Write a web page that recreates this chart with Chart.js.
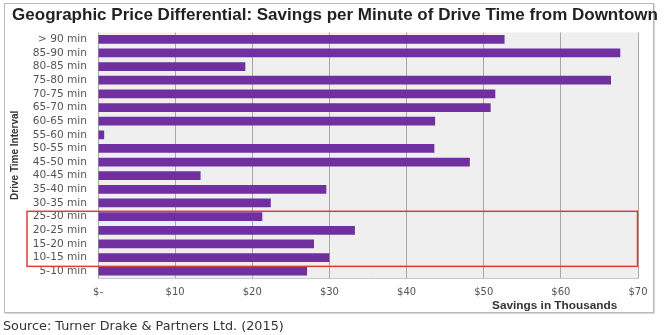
<!DOCTYPE html>
<html>
<head>
<meta charset="utf-8">
<script src="https://cdn.jsdelivr.net/npm/chart.js@4.4.1/dist/chart.umd.min.js"></script>
<style>
  html, body { margin:0; padding:0; background:#fff; }
  #wrap { position:relative; width:668px; height:335px; }
  #frame { position:absolute; left:4px; top:3px; width:648px; height:308px; border:1px solid #b8b8b8; box-shadow:1px 1px 1px #ddd; }
  #c { position:absolute; left:0; top:0; }
  #src { position:absolute; left:3px; top:318px; font:12.8px "DejaVu Sans", Verdana, sans-serif; color:#333; white-space:nowrap; }
</style>
</head>
<body>
<div id="wrap">
  <div id="frame"></div>
  <canvas id="c" width="668" height="335"></canvas>
  <div id="src">Source: Turner Drake &amp; Partners Ltd. (2015)</div>
</div>
<script>
// ---- data ------------------------------------------------------------------
const intervals = ["> 90 min","85-90 min","80-85 min","75-80 min","70-75 min","65-70 min",
  "60-65 min","55-60 min","50-55 min","45-50 min","40-45 min","35-40 min","30-35 min",
  "25-30 min","20-25 min","15-20 min","10-15 min","5-10 min"];
const savings = [52.7, 67.7, 19.1, 66.5, 51.5, 50.9, 43.7, 0.8, 43.6, 48.2, 13.3, 29.6,
  22.4, 21.3, 33.3, 28.0, 30.0, 27.1];
const xTicks = ["$-","$10","$20","$30","$40","$50","$60","$70"];
// intervalos resaltados en rojo
const highlight = ["25-30 min","10-15 min"];

const TITLE = "Geographic Price Differential: Savings per Minute of Drive Time from Downtown";
const PURPLE = "#7030a0";
const FONT = "'Liberation Sans', Arial, sans-serif";
const TICKFONT = "'DejaVu Sans', Verdana, sans-serif";

// fondo gris del area de trazado
const plotBg = {
  id:"plotBg",
  beforeDraw(chart){
    const {ctx, chartArea:a} = chart;
    ctx.save();
    ctx.fillStyle = "#efefef";
    ctx.fillRect(a.left, a.top, a.right - a.left, a.bottom - a.top);
    ctx.restore();
  }
};

// titulo (centrado en la pagina, no en el area util), recuadro rojo y titulo del eje x
const extras = {
  id:"extras",
  afterDraw(chart){
    const {ctx} = chart;
    const x = chart.scales.x, y = chart.scales.y;
    ctx.save();
    ctx.fillStyle = "#222";
    ctx.font = "bold 17px " + FONT;
    ctx.textAlign = "center";
    ctx.textBaseline = "middle";
    ctx.fillText(TITLE, 335, 15);

    const band = y.getPixelForValue(1) - y.getPixelForValue(0);
    const i0 = intervals.indexOf(highlight[0]), i1 = intervals.indexOf(highlight[1]);
    const top = y.getPixelForValue(i0) - band/2 + 1.5;
    const bot = y.getPixelForValue(i1) + band/2 + 2;
    const left = x.left - 71, right = x.getPixelForValue(70) - 0.5;
    ctx.strokeStyle = "#dc3c3c";
    ctx.lineWidth = 1.5;
    ctx.strokeRect(left, top, right - left, bot - top);

    ctx.fillStyle = "#333";
    ctx.font = "bold 11.8px " + FONT;
    ctx.fillText("Savings in Thousands", x.getPixelForValue(59.2), 306);
    ctx.restore();
  }
};

new Chart(document.getElementById("c"), {
  type:"bar",
  data:{ labels:intervals, datasets:[{
    data:savings, backgroundColor:PURPLE, borderWidth:0,
    categoryPercentage:1, barPercentage:0.64
  }]},
  options:{
    indexAxis:"y", responsive:false, animation:false,
    layout:{ padding:{ left:0, right:30, top:32.5, bottom:0 } },
    plugins:{
      legend:{ display:false }, tooltip:{ enabled:false }, title:{ display:false }
    },
    scales:{
      x:{
        min:0, max:70,
        ticks:{ stepSize:10, color:"#555", padding:8,
          font:{ family:TICKFONT, size:10 },
          callback:(v, i) => xTicks[i] },
        grid:{ color:"#a8a8a8", drawTicks:false },
        border:{ color:"#c8c8c8" },
        afterFit:s => { s.height = 57; }
      },
      y:{
        ticks:{ color:"#555", padding:11, autoSkip:false,
          font:{ family:TICKFONT, size:10.6 } },
        grid:{ display:false, drawTicks:false },
        border:{ display:false },
        title:{ display:true, text:"Drive Time Interval", color:"#333",
          font:{ family:FONT, size:10, weight:"bold" },
          padding:{ top:9, bottom:0 } },
        afterFit:s => { s.width = 98; }
      }
    }
  },
  plugins:[plotBg, extras]
});
</script>
</body>
</html>
